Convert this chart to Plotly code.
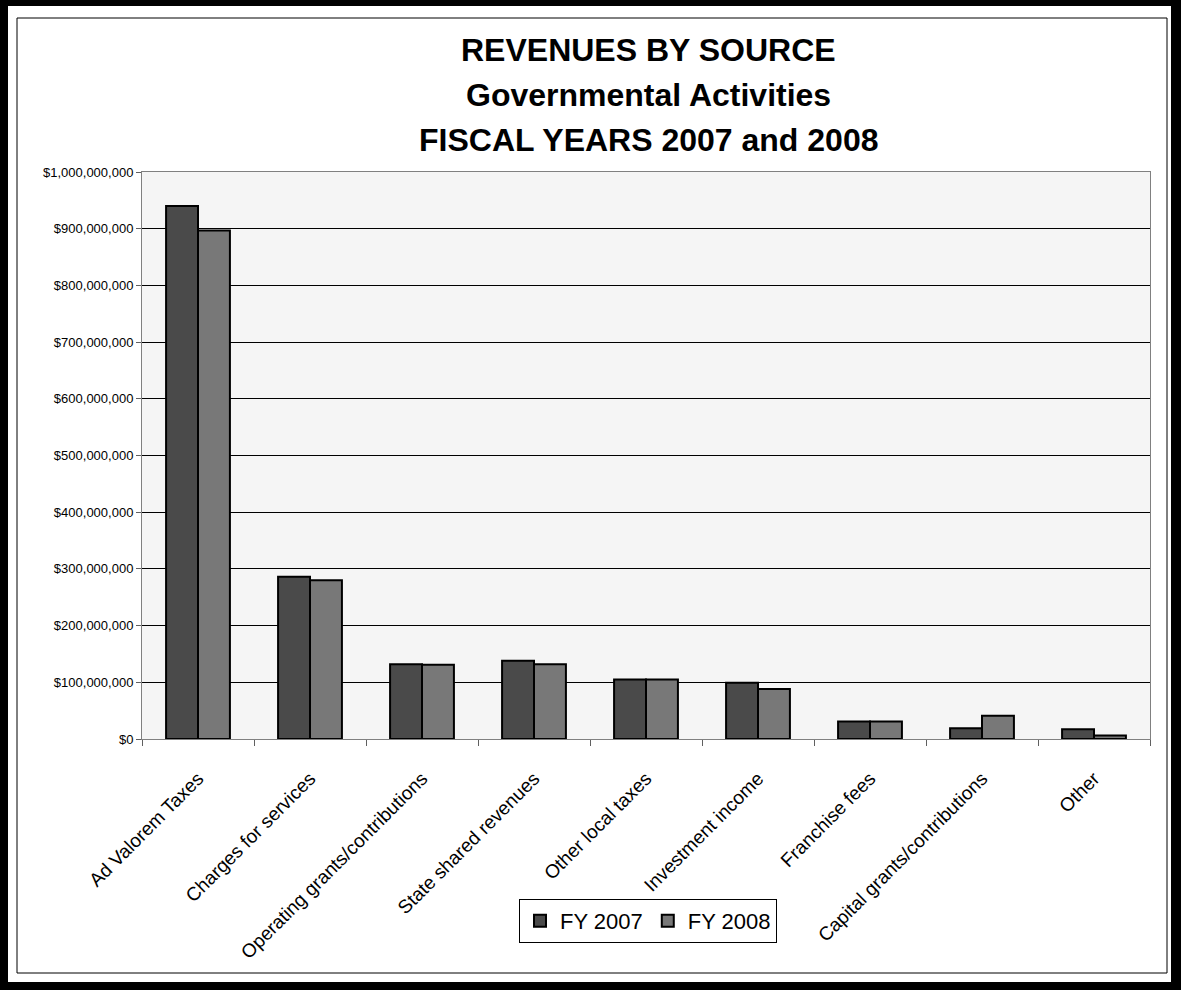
import plotly.graph_objects as go

categories = [
    "Ad Valorem Taxes",
    "Charges for services",
    "Operating grants/contributions",
    "State shared revenues",
    "Other local taxes",
    "Investment income",
    "Franchise fees",
    "Capital grants/contributions",
    "Other",
]
fy2007 = [940e6, 286e6, 132e6, 138e6, 105e6, 99e6, 31e6, 19e6, 17e6]
fy2008 = [897e6, 280e6, 131e6, 132e6, 105e6, 88e6, 31e6, 41e6, 6e6]
series_names = ["FY 2007", "FY 2008"]
title_lines = ["REVENUES BY SOURCE", "Governmental Activities", "FISCAL YEARS 2007 and 2008"]

W, H = 1181, 990
L, R, T, B = 142, 1150, 172, 739
pw, ph = R - L, B - T


def px_x(x):
    return (x - L) / pw


def px_y(y):
    return (B - y) / ph


fig = go.Figure()
fig.add_trace(go.Bar(
    x=categories, y=fy2007, name=series_names[0],
    marker=dict(color="#4a4a4a", line=dict(color="black", width=2)),
))
fig.add_trace(go.Bar(
    x=categories, y=fy2008, name=series_names[1],
    marker=dict(color="#787878", line=dict(color="black", width=2)),
))


def black_rect(x0, y0, x1, y1):
    return dict(type="rect", xref="paper", yref="paper",
                x0=px_x(x0), x1=px_x(x1), y0=px_y(y0), y1=px_y(y1),
                fillcolor="black", line=dict(width=0), layer="above")


shapes = [
    black_rect(0, 0, 8, H),
    black_rect(1171, 0, W, H),
    black_rect(0, 0, W, 6),
    black_rect(0, 982, W, H),
    dict(type="rect", xref="paper", yref="paper",
         x0=px_x(17), x1=px_x(1167), y0=px_y(18), y1=px_y(973),
         line=dict(color="black", width=1), layer="above"),
]

title_y = [50, 95, 140]
annotations = [
    dict(text=t, xref="paper", yref="paper", x=px_x(648), y=px_y(yy),
         xanchor="center", yanchor="middle", showarrow=False,
         font=dict(size=32, family="Liberation Sans, Arial, sans-serif",
                   color="black", weight="bold"))
    for t, yy in zip(title_lines, title_y)
]

fig.update_layout(
    width=W, height=H,
    margin=dict(l=L, r=W - R, t=T, b=H - B, autoexpand=False),
    paper_bgcolor="white",
    plot_bgcolor="#f5f5f5",
    barmode="group",
    bargap=0.43,
    bargroupgap=0,
    font=dict(family="Liberation Sans, Arial, sans-serif", color="black"),
    xaxis=dict(
        tickangle=-45,
        tickfont=dict(size=19),
        tickson="boundaries",
        ticks="outside", ticklen=6, tickcolor="#606060",
        ticklabelstandoff=20,
        showline=True, linecolor="#808080", linewidth=1, mirror=True,
        showgrid=False,
    ),
    yaxis=dict(
        range=[0, 1e9],
        dtick=1e8,
        tickprefix="$",
        tickformat=",d",
        tickfont=dict(size=13),
        ticks="outside", ticklen=5, tickcolor="#606060",
        showline=True, linecolor="#808080", linewidth=1, mirror=True,
        showgrid=True, gridcolor="black", gridwidth=1,
        zeroline=False,
    ),
    legend=dict(
        orientation="h",
        x=px_x(519), xanchor="left",
        y=px_y(899), yanchor="top",
        bordercolor="black", borderwidth=1,
        bgcolor="white",
        font=dict(size=22),
        itemwidth=30,
        traceorder="normal",
    ),
    shapes=shapes,
    annotations=annotations,
)

fig.write_html("out.html", config={"displayModeBar": False},
               post_script="document.body.style.margin='0px';")
